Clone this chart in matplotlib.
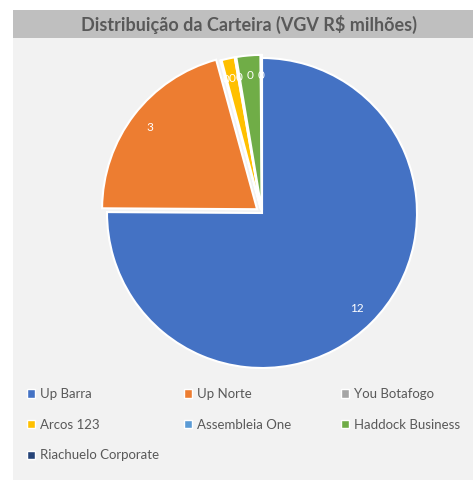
import matplotlib.pyplot as plt
from matplotlib.patches import Rectangle, Patch

# dados da carteira (VGV R$ milhões)
projetos = ['Up Barra', 'Up Norte', 'You Botafogo', 'Arcos 123',
            'Assembleia One', 'Haddock Business', 'Riachuelo Corporate']
vgv = [12.0, 3.3, 0.02, 0.22, 0.02, 0.4, 0.02]
cores = ['#4472c4', '#ed7d31', '#a5a5a5', '#ffc000', '#5b9bd5', '#70ad47', '#264478']
explode = [0.0, 0.04, 0.02, 0.02, 0.02, 0.02, 0.02]

W, H = 473, 480
plt.rcParams['font.family'] = ['Lato', 'DejaVu Sans']

fig = plt.figure(figsize=(W / 100, H / 100), dpi=100)
fig.patch.set_facecolor('white')

# fundo da área do gráfico e faixa do título
fig.patches.append(Rectangle((13 / W, 0), 1 - 13 / W, 1 - 10 / H,
                             transform=fig.transFigure, facecolor='#f2f2f2',
                             edgecolor='none', zorder=-10))
fig.patches.append(Rectangle((13 / W, 1 - 38 / H), 1 - 13 / W, 28 / H,
                             transform=fig.transFigure, facecolor='#bfbfbf',
                             edgecolor='none', zorder=-10))
fig.text(249 / W, 1 - 24 / H, 'Distribuição da Carteira (VGV R$ milhões)',
         ha='center', va='center', fontsize=13, fontweight='bold', color='#595959')

# pizza
cx, cy, r = 262, 213, 155
ax = fig.add_axes([(cx - r) / W, (H - cy - r) / H, 2 * r / W, 2 * r / H])
ax.set_facecolor('none')
total = sum(vgv)
wedges, _, autotexts = ax.pie(
    vgv, colors=cores, explode=explode, startangle=90, counterclock=False,
    autopct=lambda p: f'{p * total / 100:.0f}', pctdistance=0.87,
    wedgeprops=dict(edgecolor='white', linewidth=1.5),
    textprops=dict(color='white', fontsize=8.5))
ax.set_xlim(-1, 1)
ax.set_ylim(-1, 1)
ax.set_aspect('auto')
ax.axis('off')

# legenda em 3 colunas (ordem por linhas, como no Excel)
colunas = [[0, 3, 6], [1, 4], [2, 5]]
xs = [27, 184, 341]
for col, x0 in zip(colunas, xs):
    handles = [Patch(facecolor=cores[i], edgecolor='white', linewidth=1) for i in col]
    labels = [projetos[i] for i in col]
    fig.legend(handles, labels, loc='upper left', bbox_to_anchor=(x0 / W, 1 - 388 / H),
               frameon=False, fontsize=9.5, labelcolor='#595959',
               handlelength=0.6, handleheight=0.6, handletextpad=0.4,
               labelspacing=1.42, borderpad=0, borderaxespad=0)

fig.savefig('out.png', dpi=100)
